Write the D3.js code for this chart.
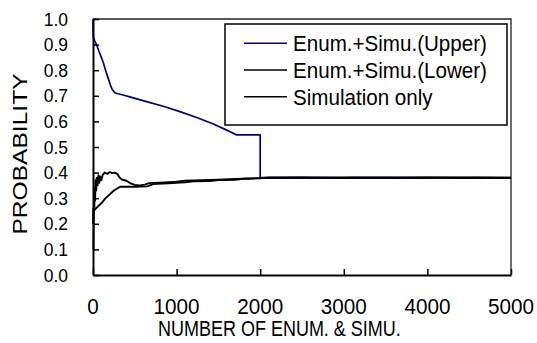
<!DOCTYPE html>
<html>
<head>
<meta charset="utf-8">
<script src="https://cdn.jsdelivr.net/npm/d3@7"></script>
<style>
  body { margin: 0; background: #fff; }
  text { font-family: "Liberation Sans", Arial, sans-serif; fill: #000; }
</style>
</head>
<body>
<svg id="chart" width="537" height="343"></svg>
<script>
// Series: [number of enum. & simu., probability]
const upperSeries = [
    [0, 1.0], [3, 0.93], [20, 0.915], [45, 0.898], [70, 0.875], [100, 0.85],
    [125, 0.828], [150, 0.80], [180, 0.77], [210, 0.74], [230, 0.725], [260, 0.712],
    [300, 0.708], [360, 0.703], [450, 0.695], [640, 0.677], [850, 0.658], [1040, 0.638],
    [1240, 0.615], [1440, 0.59], [1600, 0.566], [1720, 0.547], [2000, 0.547], [2000, 0.38],
    [2500, 0.381], [3000, 0.38], [3500, 0.381], [4000, 0.38], [4500, 0.38], [5000, 0.38]
];
const lowerSeries = [
    [0, 0.20], [5, 0.26], [20, 0.255], [50, 0.265], [100, 0.28], [150, 0.30],
    [200, 0.315], [250, 0.33], [300, 0.34], [330, 0.345], [500, 0.345], [650, 0.346],
    [720, 0.355], [900, 0.358], [1100, 0.362], [1200, 0.366], [1400, 0.367], [1500, 0.371],
    [1700, 0.372], [1800, 0.376], [2000, 0.378], [2100, 0.38], [2600, 0.379], [3100, 0.381],
    [3600, 0.379], [4100, 0.38], [4600, 0.381], [5000, 0.379]
];
const simSeries = [
    [5, 0.10], [8, 0.2], [12, 0.3], [16, 0.26], [20, 0.34], [25, 0.29], [30, 0.37],
    [38, 0.33], [45, 0.38], [55, 0.35], [65, 0.39], [75, 0.36], [85, 0.385], [100, 0.37],
    [115, 0.39], [140, 0.40], [170, 0.395], [200, 0.402], [230, 0.398], [260, 0.40],
    [290, 0.395], [320, 0.38], [350, 0.372], [400, 0.368], [450, 0.358], [500, 0.352],
    [560, 0.35], [620, 0.353], [660, 0.358], [700, 0.36], [800, 0.361], [1000, 0.364],
    [1100, 0.368], [1300, 0.37], [1500, 0.372], [1700, 0.375], [1900, 0.377], [2100, 0.38],
    [2500, 0.381], [3000, 0.379], [3500, 0.38], [4000, 0.381], [4500, 0.379], [5000, 0.38]
];

const xTicks = [0, 1000, 2000, 3000, 4000, 5000];
const yTicks = [0, 0.1, 0.2, 0.3, 0.4, 0.5, 0.6, 0.7, 0.8, 0.9, 1.0];
const legendLabels = ['Enum.+Simu.(Upper)', 'Enum.+Simu.(Lower)', 'Simulation only'];
const seriesColors = ['#000080', '#000', '#000'];

const svg = d3.select('#chart');
const plot = { left: 93, right: 511, top: 19, bottom: 275 };
const stretch = 1.1; // text in the reference is a little taller than wide

const x = d3.scaleLinear().domain([0, 5000]).range([plot.left, plot.right]);
const y = d3.scaleLinear().domain([0, 1]).range([plot.bottom, plot.top]);

// Frame (top and right)
svg.append('path')
    .attr('d', `M${plot.left},${plot.top}H${plot.right}V${plot.bottom}`)
    .attr('fill', 'none')
    .attr('stroke', '#222')
    .attr('stroke-width', 1.3);

// Lines
const line = d3.line().x(d => x(d[0])).y(d => y(d[1]));
[upperSeries, lowerSeries, simSeries].forEach((s, i) => {
    svg.append('path')
        .datum(s)
        .attr('d', line)
        .attr('fill', 'none')
        .attr('stroke', seriesColors[i])
        .attr('stroke-width', i === 0 ? 1.7 : 1.9)
        .attr('stroke-linejoin', 'round');
});

// Axes with inward ticks
const xAxis = svg.append('g')
    .attr('transform', `translate(0,${plot.bottom})`)
    .call(d3.axisBottom(x).tickValues(xTicks).tickSizeInner(-6).tickSizeOuter(0).tickFormat(''));
const yAxis = svg.append('g')
    .attr('transform', `translate(${plot.left},0)`)
    .call(d3.axisLeft(y).tickValues(yTicks).tickSizeInner(-6).tickSizeOuter(0).tickFormat(''));
[xAxis, yAxis].forEach(g => {
    g.select('.domain').attr('stroke', '#000').attr('stroke-width', 2);
    g.selectAll('.tick line').attr('stroke', '#000').attr('stroke-width', 1.5);
});

// Tick labels
svg.selectAll('.xlab')
    .data(xTicks)
    .enter()
    .append('text')
    .attr('class', 'xlab')
    .attr('transform', d => `translate(${x(d)},313.5) scale(1,${stretch})`)
    .attr('text-anchor', 'middle')
    .style('font-size', '20.7px')
    .text(d => d);

svg.selectAll('.ylab')
    .data(yTicks)
    .enter()
    .append('text')
    .attr('class', 'ylab')
    .attr('transform', d => `translate(68,${y(d) + 6.6}) scale(1,1.06)`)
    .attr('text-anchor', 'end')
    .style('font-size', '17.5px')
    .text(d => d.toFixed(1));

// Axis titles
svg.append('text')
    .attr('transform', `translate(158,335.5) scale(1,1.18)`)
    .style('font-size', '18px')
    .text('NUMBER OF ENUM. & SIMU.');

svg.append('text')
    .attr('transform', `translate(27,154) rotate(-90) scale(1.17,1)`)
    .attr('text-anchor', 'middle')
    .style('font-size', '21px')
    .text('PROBABILITY');

// Legend
const legend = svg.append('g');
legend.append('rect')
    .attr('x', 225).attr('y', 24)
    .attr('width', 282).attr('height', 101)
    .attr('fill', '#fff')
    .attr('stroke', '#000')
    .attr('stroke-width', 1.5);

legendLabels.forEach((label, i) => {
    const ly = 43.3 + i * 26.7;
    legend.append('line')
        .attr('x1', 244).attr('x2', 287)
        .attr('y1', ly).attr('y2', ly)
        .attr('stroke', seriesColors[i])
        .attr('stroke-width', 1.5);
    legend.append('text')
        .attr('transform', `translate(293,${ly + 8}) scale(1,${stretch})`)
        .style('font-size', '20.6px')
        .text(label);
});
</script>
</body>
</html>
